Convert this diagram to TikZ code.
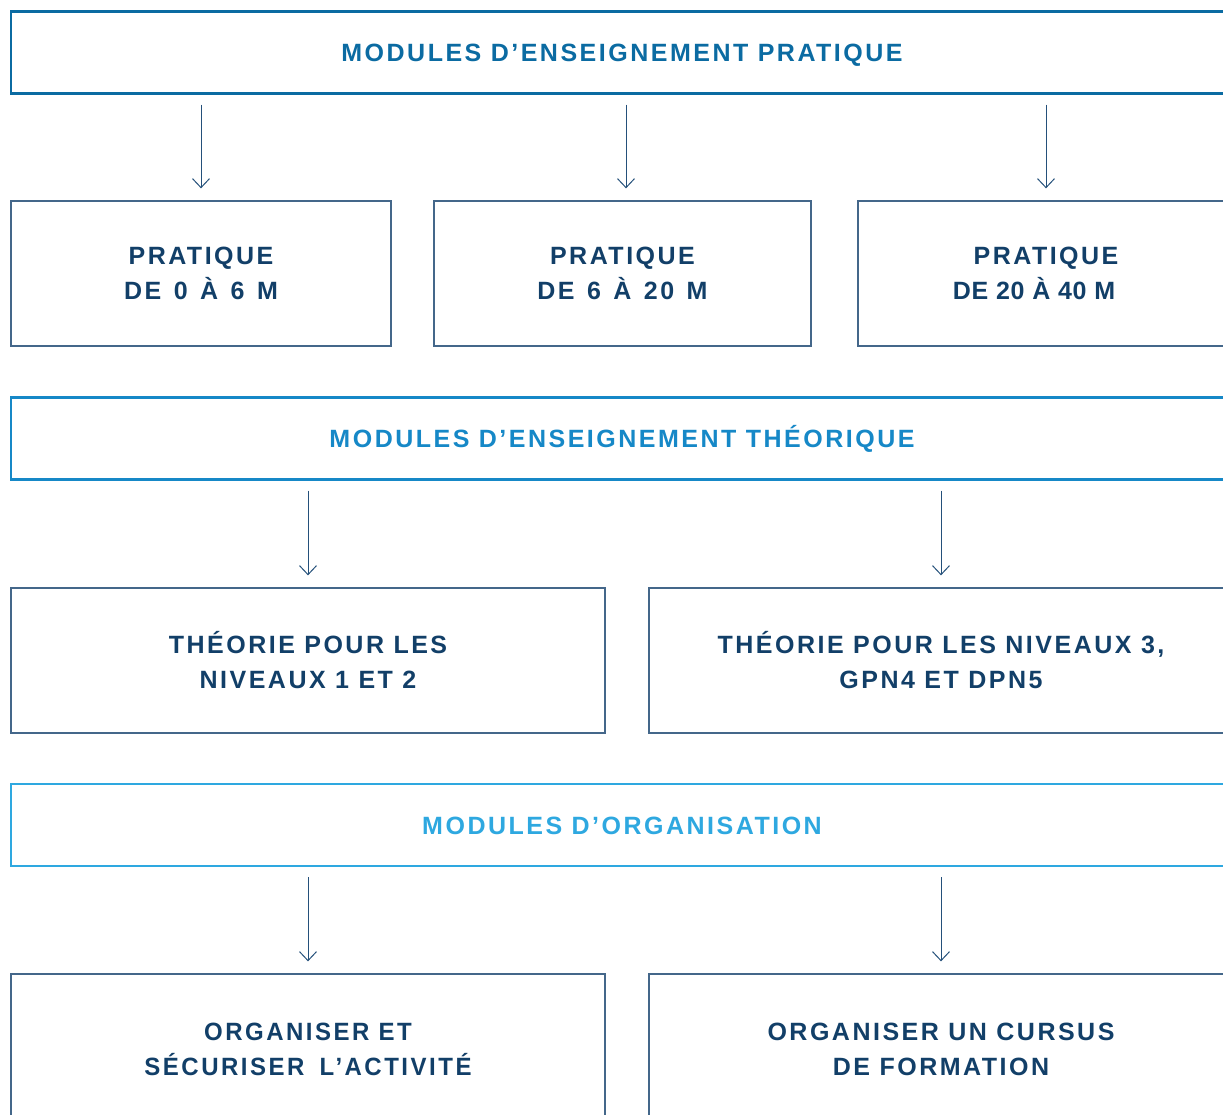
\documentclass[tikz,border=0pt]{standalone}
\usepackage{fontspec}
\newfontfamily\labfont[LetterSpace=10]{Liberation Sans}
\newfontfamily\tightfont[LetterSpace=3]{Liberation Sans}
\newfontfamily\narfont[LetterSpace=10,FakeStretch=0.96]{Liberation Sans}
\usepackage{tikz}
\usetikzlibrary{arrows.meta, positioning}

\definecolor{headA}{HTML}{0B6BA2}
\definecolor{headB}{HTML}{1688C7}
\definecolor{headC}{HTML}{2EA8E0}
\definecolor{boxline}{HTML}{44678A}
\definecolor{boxtext}{HTML}{123F68}
\definecolor{arrline}{HTML}{24507A}

\begin{document}
\begin{tikzpicture}[x = 1pt, y = -1pt,
   head/.style = {draw, line width = 2.4pt, minimum width = 1222pt, minimum height = 82pt,
      inner sep = 0pt, text height = 18pt, text depth = 0pt,
      font = \labfont\bfseries\fontsize{25}{35}\selectfont},
   sub/.style = {draw = boxline, line width = 1.3pt, minimum height = 145pt, inner sep = 0pt,
      text = boxtext, align = center, font = \labfont\bfseries\fontsize{25}{35}\selectfont},
   arr/.style = {arrline, line width = 1pt, -{Straight Barb[length = 9pt, width = 17pt]},
      shorten < = 10pt, shorten > = 12pt}]

\useasboundingbox (0, 0) rectangle (1223, 1115);

% pratique
\node[head, headA] (hPrat) at (622, 52.5) {MODULES D’ENSEIGNEMENT PRATIQUE};
\node[sub, minimum width = 380pt] (p1) at (201, 273.5)
   {PRATIQUE\\DE\hspace{3pt} 0\hspace{3pt} À\hspace{3pt} 6\hspace{3pt} M};
\node[sub, minimum width = 377pt] (p2) at (622.5, 273.5)
   {PRATIQUE\\DE\hspace{3pt} 6\hspace{3pt} À\hspace{3pt} 20\hspace{3pt} M};
\node[sub, minimum width = 376pt] (p3) at (1046, 273.5)
   {PRATIQUE\\{\tightfont\bfseries DE 20 À 40 M}\hspace*{24pt}};
\draw[arr] (p1.north |- hPrat.south) -- (p1.north);
\draw[arr] ([xshift = 3.5pt]p2.north |- hPrat.south) -- ([xshift = 3.5pt]p2.north);
\draw[arr] (p3.north |- hPrat.south) -- (p3.north);

% theorie
\node[head, headB] (hTheo) at (622, 438.5) {MODULES D’ENSEIGNEMENT THÉORIQUE};
\node[sub, minimum width = 594pt] (t1) at (308, 660.5) {\rule{0pt}{20pt}THÉORIE POUR LES\\NIVEAUX 1 ET 2};
\node[sub, minimum width = 584pt] (t2) at (941, 660.5) {\rule{0pt}{20pt}THÉORIE POUR LES NIVEAUX 3,\\GPN4 ET DPN5};
\draw[arr] (t1.north |- hTheo.south) -- (t1.north);
\draw[arr] (t2.north |- hTheo.south) -- (t2.north);

% organisation
\node[head, headC] (hOrga) at (622, 825) {MODULES D’ORGANISATION};
\node[sub, minimum width = 594pt, font = \narfont\bfseries\fontsize{25}{35}\selectfont] (o1) at (308, 1046.5)
   {\rule{0pt}{24pt}ORGANISER ET\\SÉCURISER\hspace{6pt} L’ACTIVITÉ};
\node[sub, minimum width = 584pt] (o2) at (941, 1046.5) {\rule{0pt}{24pt}ORGANISER UN CURSUS\\DE FORMATION};
\draw[arr] (o1.north |- hOrga.south) -- (o1.north);
\draw[arr] (o2.north |- hOrga.south) -- (o2.north);

\end{tikzpicture}
\end{document}
